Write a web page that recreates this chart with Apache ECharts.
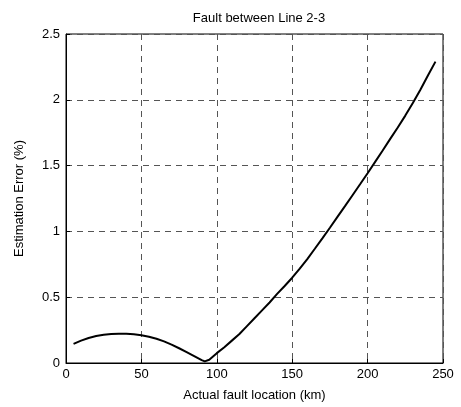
<!DOCTYPE html>
<html><head><meta charset="utf-8">
<script src="https://cdn.jsdelivr.net/npm/echarts@6/dist/echarts.min.js"></script>
<style>html,body{margin:0;padding:0;background:#fff}#c{width:461px;height:407px}</style>
</head><body><div id="c"></div>
<script>
const titleText = "Fault between Line 2-3";
const xName = "Actual fault location (km)";
const yName = "Estimation Error (%)";
const locationKm = [5,10,15,20,25,30,35,40,45,50,55,60,65,70,75,80,85,90,92,95,100,105,110,115,120,125,130,135,140,145,150,155,160,165,170,175,180,185,190,195,200,205,210,215,220,225,230,235,240,245];
const errorPct = [0.145,0.17,0.19,0.205,0.215,0.221,0.223,0.222,0.218,0.211,0.200,0.184,0.164,0.140,0.112,0.083,0.053,0.022,0.012,0.025,0.075,0.12,0.17,0.22,0.28,0.34,0.40,0.46,0.525,0.585,0.648,0.718,0.79,0.868,0.947,1.028,1.11,1.192,1.275,1.358,1.442,1.528,1.615,1.703,1.79,1.88,1.975,2.077,2.185,2.29];

const chart = echarts.init(document.getElementById('c'), null, {renderer:'canvas'});
const font = 'Liberation Sans, Arial, sans-serif';
const gridLine = {show:true, lineStyle:{color:'#555', type:[6,5], width:1}};
chart.setOption({
  animation:false,
  backgroundColor:'#fff',
  title:{text:titleText, left:254, top:7, textAlign:'center',
    textStyle:{fontFamily:font, fontSize:13, fontWeight:'normal', color:'#000'}},
  grid:{left:66, right:18, top:34, bottom:43, show:true, borderColor:'#000', borderWidth:1},
  xAxis:{type:'value', min:0, max:250, interval:50,
    name:xName, nameLocation:'middle', nameGap:26,
    nameTextStyle:{fontFamily:font, fontSize:13, color:'#000'},
    axisLine:{show:true, lineStyle:{color:'#000'}},
    axisTick:{show:true, inside:true, length:4, lineStyle:{color:'#000'}},
    axisLabel:{fontFamily:font, fontSize:13, color:'#000', margin:5},
    splitLine:gridLine},
  yAxis:{type:'value', min:0, max:2.5, interval:0.5,
    name:yName, nameLocation:'middle', nameGap:40, nameRotate:90,
    nameTextStyle:{fontFamily:font, fontSize:13, color:'#000'},
    axisLine:{show:true, lineStyle:{color:'#000'}},
    axisTick:{show:true, inside:true, length:4, lineStyle:{color:'#000'}},
    axisLabel:{fontFamily:font, fontSize:13, color:'#000', margin:6},
    splitLine:gridLine},
  series:[{type:'line', data:locationKm.map((x,i)=>[x,errorPct[i]]),
    showSymbol:false, smooth:false, lineStyle:{color:'#000', width:2}}]
});
</script></body></html>
